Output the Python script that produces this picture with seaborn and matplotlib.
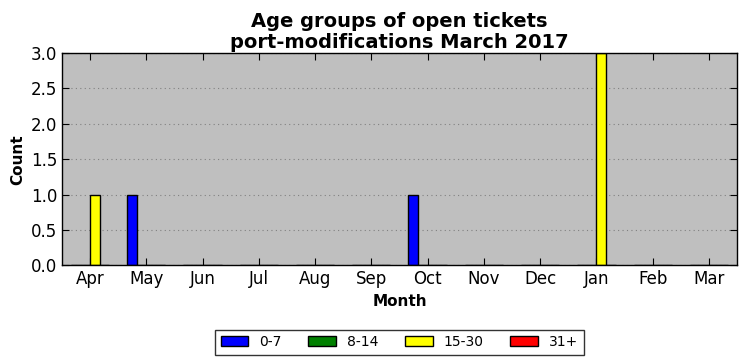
import pandas as pd
import numpy as np
import matplotlib
matplotlib.use("Agg")
import matplotlib.pyplot as plt
import seaborn as sns

# Data
months = ["Apr", "May", "Jun", "Jul", "Aug", "Sep", "Oct", "Nov", "Dec", "Jan", "Feb", "Mar"]
groups = ["0-7", "8-14", "15-30", "31+"]
age_0_7 = [0, 1, 0, 0, 0, 0, 1, 0, 0, 0, 0, 0]
age_8_14 = [0, 0, 0, 0, 0, 0, 0, 0, 0, 0, 0, 0]
age_15_30 = [1, 0, 0, 0, 0, 0, 0, 0, 0, 3, 0, 0]
age_31 = [0, 0, 0, 0, 0, 0, 0, 0, 0, 0, 0, 0]
colors = ["blue", "green", "yellow", "red"]

# Long format table for seaborn
df = pd.DataFrame({"Month": months * 4,
                   "Group": np.repeat(groups, len(months)),
                   "Count": age_0_7 + age_8_14 + age_15_30 + age_31})

fig, ax = plt.subplots(figsize=(7.46, 3.61), dpi=100)
sns.barplot(data=df, x="Month", y="Count", hue="Group", order=months,
            hue_order=groups, palette=colors, saturation=1, width=0.68,
            edgecolor="black", linewidth=1, errorbar=None, ax=ax)

ax.set_facecolor("#bfbfbf")
ax.set_ylim(0, 3)
ax.set_xlim(-0.5, 11.5)
ax.set_yticks(np.arange(0, 3.01, 0.5))
ax.set_yticklabels(["%.1f" % v for v in np.arange(0, 3.01, 0.5)])
ax.yaxis.grid(True, linestyle=(0, (1, 3)), color="#808080", linewidth=0.8)
ax.set_axisbelow(True)
ax.tick_params(direction="in", top=True, right=True, labelsize=12, length=5)
for s in ax.spines.values():
    s.set_color("black")
    s.set_linewidth(1)

ax.set_title("Age groups of open tickets\nport-modifications March 2017",
             fontsize=14, fontweight="bold", linespacing=1.1, pad=4)
ax.set_xlabel("Month", fontsize=11, fontweight="bold")
ax.set_ylabel("Count", fontsize=11, fontweight="bold")

ax.legend(loc="upper center", bbox_to_anchor=(0.5, -0.27), ncol=4,
          fontsize=10, frameon=True, fancybox=False, edgecolor="black",
          handlelength=2.0, columnspacing=1.9, borderpad=0.4)

plt.subplots_adjust(left=0.083, right=0.988, top=0.853, bottom=0.265)
plt.savefig("out.png", dpi=100)
